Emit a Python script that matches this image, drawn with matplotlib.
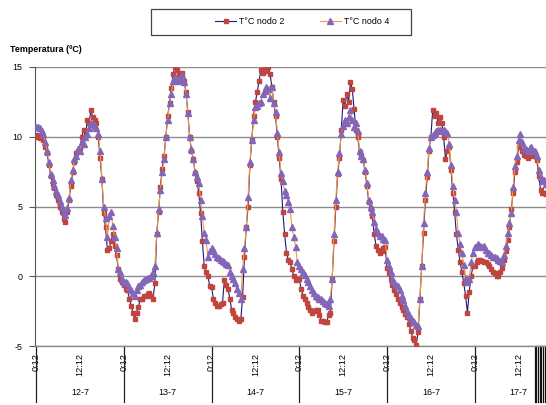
import matplotlib
matplotlib.use("Agg")
import matplotlib.pyplot as plt
from matplotlib.patches import Rectangle
import matplotlib.transforms as mtransforms
import numpy as np

plt.rcParams['font.family'] = ['Liberation Sans', 'DejaVu Sans']

# half-hourly readings, each day starting at 0:12
n2_d12 = [10.0, 10.1, 9.9, 9.9, 9.8, 9.3, 8.8, 8.0, 7.2, 6.6, 6.3, 5.8, 5.5, 5.0, 4.6, 4.1,
          3.9, 4.6, 5.5, 6.5, 7.5, 8.2, 8.8, 9.0, 9.2, 10.0, 10.5, 10.0, 11.2, 11.0, 11.9, 11.4,
          11.2, 11.0, 10.0, 8.5, 7.0, 4.5, 3.5, 1.9, 2.0, 2.5, 3.0, 2.2, 1.5, 0.5, -0.2, -0.4]
n2_d13 = [-0.6, -0.9, -1.0, -1.6, -2.1, -2.6, -3.1, -2.6, -2.2, -1.6, -1.6, -1.4, -1.4, -1.3, -1.2, -1.4,
          -1.6, -0.5, 3.0, 4.6, 6.4, 7.7, 8.6, 10.0, 11.5, 12.4, 13.5, 14.5, 15.0, 14.8, 14.5, 14.4,
          14.6, 14.0, 13.2, 11.8, 10.0, 9.0, 8.4, 7.4, 6.8, 6.0, 4.5, 2.5, 0.7, 0.3, 0.0, -0.7]
n2_d14 = [-0.8, -1.6, -1.9, -2.1, -2.1, -2.0, -1.9, -0.3, -0.6, -0.9, -1.6, -2.4, -2.6, -2.9, -3.1, -3.2,
          -3.1, -1.5, 1.4, 3.5, 5.0, 8.0, 9.8, 11.5, 12.5, 13.2, 14.0, 14.8, 14.6, 14.9, 14.7, 15.0,
          14.5, 13.6, 12.5, 11.5, 10.0, 8.5, 7.0, 4.6, 3.0, 1.7, 1.2, 1.0, 0.5, 0.0, -0.3, -0.2]
n2_d15 = [-0.2, -0.9, -1.4, -1.6, -1.9, -2.2, -2.4, -2.6, -2.5, -2.4, -2.4, -2.8, -3.2, -3.2, -3.3, -3.3,
          -2.8, -2.6, -0.2, 2.5, 5.0, 7.3, 8.5, 10.5, 12.6, 12.2, 13.1, 12.5, 13.9, 13.4, 12.0, 10.5,
          10.0, 8.9, 8.6, 8.3, 7.5, 6.5, 5.3, 4.8, 4.3, 3.0, 2.2, 1.9, 1.7, 1.8, 2.0, 2.1]
n2_d16 = [0.6, 0.2, -0.2, -0.6, -1.0, -1.3, -1.6, -1.9, -2.2, -2.4, -2.7, -2.9, -3.4, -3.9, -4.4, -4.6,
          -4.9, -4.0, -1.6, 0.7, 3.1, 5.5, 7.1, 9.0, 10.0, 11.9, 11.5, 11.7, 11.0, 11.4, 11.0, 10.0,
          8.4, 9.0, 9.3, 7.6, 6.0, 4.6, 3.0, 1.9, 1.0, 0.3, -0.5, -1.4, -2.6, -1.1, 0.0, 0.7]
n2_d17 = [0.7, 1.0, 1.2, 1.2, 1.1, 1.0, 1.0, 0.9, 0.7, 0.5, 0.3, 0.2, 0.0, 0.0, 0.3, 0.6,
          1.2, 1.8, 2.6, 3.5, 4.8, 6.0, 7.5, 8.2, 9.3, 9.5, 9.0, 8.7, 8.6, 8.5, 8.6, 8.7,
          8.8, 8.6, 8.3, 7.2, 6.2, 6.0, 6.0, 5.9]

n4_d12 = [10.7, 10.7, 10.6, 10.4, 10.2, 9.6, 9.0, 8.2, 7.3, 6.9, 6.5, 6.1, 5.8, 5.4, 5.0, 4.6,
          4.4, 4.9, 5.6, 6.9, 7.6, 8.4, 8.6, 9.1, 9.0, 9.6, 9.5, 10.0, 10.2, 10.6, 11.0, 10.9,
          10.8, 10.6, 10.2, 9.0, 7.0, 5.0, 4.2, 2.8, 4.3, 4.6, 3.6, 2.8, 2.0, 0.5, 0.3, -0.2]
n4_d13 = [-0.4, -0.4, -0.5, -0.8, -1.0, -1.2, -1.4, -1.0, -0.7, -0.6, -0.4, -0.3, -0.2, -0.1, -0.1, 0.0,
          0.3, 0.7, 3.1, 4.8, 6.2, 7.5, 8.4, 10.0, 11.2, 12.4, 13.1, 14.0, 14.3, 14.0, 14.1, 14.2,
          14.4, 13.9, 13.1, 11.7, 10.0, 9.1, 8.4, 7.5, 7.1, 6.7, 5.5, 4.3, 3.1, 2.6, 1.4, 1.8]
n4_d14 = [2.0, 1.9, 1.6, 1.4, 1.3, 1.2, 1.1, 1.0, 0.9, 0.8, 0.3, 0.0, -0.2, -0.5, -0.9, -1.2,
          -1.6, 0.5, 2.0, 3.5, 5.7, 8.2, 9.8, 11.2, 12.1, 12.2, 12.4, 12.5, 13.1, 13.3, 13.6, 13.4,
          12.8, 13.6, 12.4, 11.8, 10.3, 8.9, 7.4, 6.8, 6.1, 5.8, 5.3, 4.8, 3.5, 2.8, 2.1, 1.0]
n4_d15 = [0.7, 0.5, 0.3, 0.1, -0.2, -0.4, -0.7, -1.0, -1.2, -1.4, -1.5, -1.6, -1.6, -1.8, -1.9, -2.0,
          -2.1, -1.6, -0.2, 3.0, 5.5, 7.5, 8.8, 10.2, 10.8, 11.2, 11.0, 11.4, 11.9, 11.2, 10.7, 11.0,
          10.4, 9.0, 8.6, 8.4, 7.6, 6.7, 5.5, 5.0, 4.6, 3.9, 3.4, 3.1, 2.9, 2.9, 2.7, 2.6]
n4_d16 = [1.2, 0.7, 0.3, -0.2, -0.4, -0.6, -0.7, -1.0, -1.4, -1.7, -2.1, -2.5, -2.8, -3.0, -3.2, -3.3,
          -3.5, -3.6, -1.6, 0.7, 3.8, 6.0, 7.5, 9.2, 10.0, 10.1, 10.3, 10.4, 10.5, 10.5, 10.4, 10.5,
          10.4, 10.3, 9.5, 8.0, 6.5, 5.5, 4.6, 3.1, 2.3, 1.7, 0.8, -0.1, -0.4, -0.2, 1.0, 1.7]
n4_d17 = [2.1, 2.2, 2.3, 2.2, 2.1, 2.2, 1.9, 1.7, 1.7, 1.5, 1.4, 1.4, 1.3, 1.2, 1.1, 1.0,
          1.5, 2.2, 3.1, 3.8, 4.5, 6.4, 7.9, 8.6, 9.8, 10.2, 9.6, 9.2, 9.1, 9.0, 9.2, 9.3,
          9.0, 9.0, 8.6, 7.6, 7.1, 6.8, 6.9, 6.6]

days = ['12-7', '13-7', '14-7', '15-7', '16-7', '17-7']
hour_labels = ['0:12', '12:12']
series_names = ['T°C nodo 2', 'T°C nodo 4']

nodo2 = n2_d12 + n2_d13 + n2_d14 + n2_d15 + n2_d16 + n2_d17
nodo4 = n4_d12 + n4_d13 + n4_d14 + n4_d15 + n4_d16 + n4_d17
hours = np.arange(len(nodo2)) * 0.5

FS = 6.4

fig = plt.figure(figsize=(5.46, 4.05), dpi=100)
ax = fig.add_axes([35 / 546, 1 - 346 / 405, 1 - 35 / 546, (346 - 67) / 405])

ax.plot(hours, nodo2, color='#1a1a80', lw=0.8, marker='s', ms=3.1,
        mfc='#c0453c', mec='#c0453c', label=series_names[0], zorder=3)
ax.plot(hours, nodo4, color='#f59a3c', lw=0.8, marker='^', ms=4.0,
        mfc='#8466b8', mec='#8466b8', label=series_names[1], zorder=4)

ax.set_xlim(-0.3, 139.5)
ax.set_ylim(-5, 15)
ax.set_yticks([-5, 0, 5, 10, 15])
ax.set_yticklabels(['-5', '0', '5', '10', '15'], fontsize=FS)
ax.yaxis.grid(True, color='#8c8c8c', lw=1.0)
ax.set_axisbelow(True)
ax.tick_params(axis='y', direction='out', length=4, width=0.8, color='#555555', pad=5)

for s in ['top', 'right']:
    ax.spines[s].set_visible(False)
ax.spines['left'].set_color('#555555')
ax.spines['bottom'].set_color('#8c8c8c')
ax.spines['bottom'].set_linewidth(1.0)

ticks = []
labels = []
for d in range(len(days)):
    for k, lab in enumerate(hour_labels):
        ticks.append(d * 24 + k * 12)
        labels.append(lab)
ax.set_xticks(ticks)
ax.set_xticklabels(labels, rotation=90, fontsize=6.6, va='top')
ax.tick_params(axis='x', length=0, pad=5)

trans = mtransforms.blended_transform_factory(ax.transData, ax.transAxes)
for d, name in enumerate(days):
    ax.plot([d * 24, d * 24], [0, -0.2], transform=trans, color='#222222', lw=0.9,
            clip_on=False, zorder=1)
    ax.text(d * 24 + 12, -0.165, name, transform=trans, ha='center', va='center', fontsize=FS)
for xe in np.arange(136.4, 139.5, 0.45):
    ax.plot([xe, xe], [0, -0.2], transform=trans, color='#111111', lw=0.9,
            clip_on=False, zorder=1)

fig.text(10 / 546, 1 - 49 / 405, 'Temperatura (ºC)', fontsize=FS, fontweight='bold',
         ha='left', va='center')

fig.patches.append(Rectangle((151 / 546, 1 - 35 / 405), 260 / 546, 26 / 405,
                             transform=fig.transFigure, fill=False, ec='#444444', lw=0.9))
fig.legend(loc='center', bbox_to_anchor=(302 / 546, 1 - 22 / 405), ncol=2, frameon=False,
           fontsize=FS, handlelength=2.4, columnspacing=4.0, handletextpad=0.3)

fig.savefig('out.png', dpi=100)
